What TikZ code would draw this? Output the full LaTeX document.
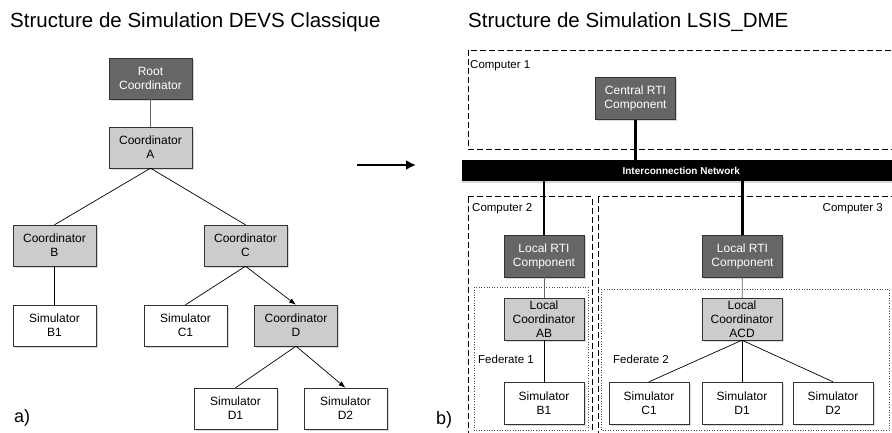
\documentclass[tikz,border=0pt]{standalone}
\usepackage{fontspec}
\setmainfont{Liberation Sans}
\usetikzlibrary{positioning,shadows,arrows.meta}
\definecolor{rtigray}{HTML}{666666}
\definecolor{coordgray}{HTML}{CCCCCC}

\begin{document}
\begin{tikzpicture}[x=1pt,y=-1pt,
    box/.style={draw=black!80,minimum width=83pt,minimum height=41pt,inner sep=0pt,align=center,
      font=\fontsize{12}{13.8}\selectfont,drop shadow={shadow xshift=1.5pt,shadow yshift=-1.5pt,opacity=0.3}},
    rbox/.style={minimum width=80pt,minimum height=42pt},
    rti/.style={box,fill=rtigray,text=white},
    coord/.style={box,fill=coordgray},
    sim/.style={box,fill=white},
    network/.style={fill=black,text=white,minimum height=21pt,inner sep=0pt,
      font=\fontsize{10}{12}\selectfont\bfseries,drop shadow={shadow xshift=0pt,shadow yshift=-1.5pt,opacity=0.3}},
    computer/.style={draw=black,line width=0.7pt,dash pattern=on 6pt off 3pt},
    federate/.style={draw=black!70,line width=0.6pt,dotted},
    tag/.style={font=\fontsize{11.5}{13}\selectfont,inner sep=0pt},
    title/.style={font=\fontsize{20.5}{23}\selectfont,inner sep=0pt},
    link/.style={draw=black,line width=0.7pt},
    arc/.style={link,-{Latex[length=7pt,width=5pt]}},
    bus/.style={draw=black,line width=2.8pt}]
  \clip (0,0) rectangle (892,432);

  % classic DEVS tree
  \node[title,anchor=base west] (titleA) at (10,27.5) {Structure de Simulation DEVS Classique};
  \node[rti] (root) at (150.5,78.5) {Root\\Coordinator};
  \node[coord] (A) at (150.5,147.5) {Coordinator\\A};
  \node[coord] (B) at (54.5,245.5) {Coordinator\\B};
  \node[coord] (C) at (245.5,245.5) {Coordinator\\C};
  \node[sim] (B1) at (54.5,325.5) {Simulator\\B1};
  \node[sim] (C1) at (185.5,325.5) {Simulator\\C1};
  \node[coord] (D) at (296,325.5) {Coordinator\\D};
  \node[sim] (D1) at (235.5,408.5) {Simulator\\D1};
  \node[sim] (D2) at (345.5,408.5) {Simulator\\D2};
  \node[anchor=base west,font=\fontsize{18}{20}\selectfont,inner sep=0pt] (la) at (14,422) {a)};

  \draw[link,draw=black!60] (root) -- (A);
  \draw[link] (A.south) -- (B.north);
  \draw[link] (A.south) -- (C.north);
  \draw[link] (B) -- (B1);
  \draw[link] (C.south) -- (C1.north);
  \draw[arc] (C.south) -- (D.north);
  \draw[link] (D.south) -- (D1.north);
  \draw[arc] (D.south) -- (D2.north);

  \coordinate (arrowfrom) at (357,165);
  \coordinate (arrowto) at (416,165);
  \draw[line width=2.5pt,-{Latex[length=10pt,width=10pt]}] (arrowfrom) -- (arrowto);

  % LSIS_DME structure
  \node[title,anchor=base west] (titleB) at (468,27.5) {Structure de Simulation LSIS\_DME};
  \draw[computer] (468,50) rectangle (900,149);
  \draw[computer] (468,196.5) rectangle (592,440);
  \draw[computer] (598,196.5) rectangle (900,440);
  \draw[federate] (474,287) rectangle (588,430.5);
  \draw[federate] (601,289) rectangle (889,430.5);
  \node[tag,anchor=base west] (pc1) at (470,68) {Computer 1};
  \node[tag,anchor=base west] (pc2) at (472,211.5) {Computer 2};
  \node[tag,anchor=base east] (pc3) at (883,211) {Computer 3};
  \node[tag,anchor=base west] (fed1) at (478,363) {Federate 1};
  \node[tag,anchor=base west] (fed2) at (613,363) {Federate 2};
  \node[anchor=base west,font=\fontsize{18}{20}\selectfont,inner sep=0pt] (lb) at (436,424) {b)};

  \node[network,minimum width=438pt,anchor=west] (net) at (462,170.5) {Interconnection Network};
  \node[rti,rbox] (central) at (635.5,98.5) {Central RTI\\Component};
  \node[rti,rbox] (lrti1) at (544,256) {Local RTI\\Component};
  \node[rti,rbox] (lrti2) at (742.5,256) {Local RTI\\Component};
  \node[coord,rbox] (lcAB) at (544,319) {Local\\Coordinator\\AB};
  \node[coord,rbox] (lcACD) at (742,319) {Local\\Coordinator\\ACD};
  \node[sim,rbox] (rB1) at (544,403) {Simulator\\B1};
  \node[sim,rbox] (rC1) at (649,403) {Simulator\\C1};
  \node[sim,rbox] (rD1) at (742,403) {Simulator\\D1};
  \node[sim,rbox] (rD2) at (833,403) {Simulator\\D2};

  \draw[bus] (central.south) -- (central.south |- net.north);
  \draw[bus] (lrti1.north |- net.south) -- (lrti1.north);
  \draw[bus] (lrti2.north |- net.south) -- (lrti2.north);
  \draw[link,draw=black!60] (lrti1) -- (lcAB);
  \draw[link,draw=black!60] (lrti2) -- (lcACD);
  \draw[link] (lcAB) -- (rB1);
  \draw[link] (lcACD.south) -- (rC1.north);
  \draw[link] (lcACD.south) -- (rD1.north);
  \draw[link] (lcACD.south) -- (rD2.north);
\end{tikzpicture}
\end{document}
